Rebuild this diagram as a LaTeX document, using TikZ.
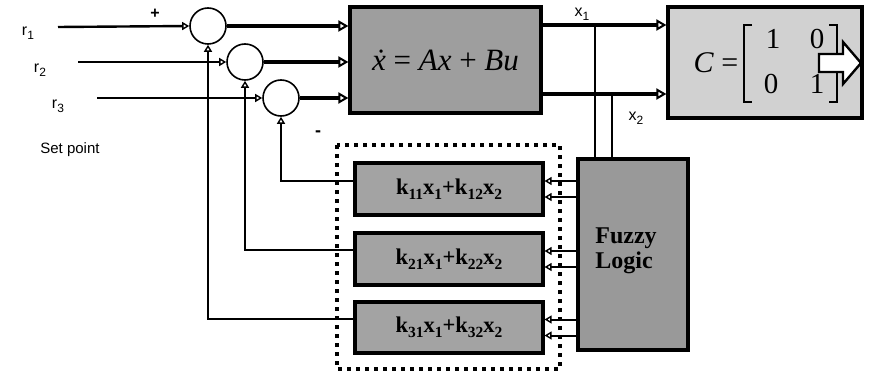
\documentclass[tikz,border=0pt]{standalone}
\usepackage{fontspec}
\setmainfont{Liberation Serif}
\newfontfamily\lsans{Liberation Sans}
\usetikzlibrary{arrows.meta}
\newcommand{\mysub}[1]{\raisebox{-0.22em}{\fontsize{15.5}{15.5}\selectfont #1}}
\newcommand{\mysubs}[1]{\raisebox{-0.25em}{\fontsize{12}{12}\selectfont #1}}
\begin{document}
\begin{tikzpicture}[x=1pt,y=-1pt,
  tip/.style={-{Triangle[open,length=10pt,width=11pt,line width=2pt]}},
  tipb/.style={-{Triangle[open,length=7pt,width=8pt,line width=1.4pt]}},
  inl/.style={line width=2.4pt},
  thk/.style={line width=3.6pt},
  fb/.style={line width=2pt},
  blk/.style={draw,line width=3.2pt,inner sep=0pt},
  sumc/.style={circle,draw,line width=1.6pt,minimum size=36pt,inner sep=0pt},
  lab/.style={font=\lsans\fontsize{16}{16}\selectfont,inner sep=0pt},
  ktext/.style={font=\bfseries\fontsize{22.5}{26}\selectfont},
  digit/.style={font=\fontsize{29}{29}\selectfont,inner sep=0pt},
  brk/.style={line width=2.6pt,line cap=butt,line join=miter}
]
\useasboundingbox (0,0) rectangle (874,374);

% dotted enclosure
\draw[line width=4pt,dash pattern=on 4pt off 5pt] (337,145) rectangle (560,369);

% blocks
\node[blk,fill=black!38,minimum width=191pt,minimum height=106pt] (sys) at (445.5,60)
  {\fontsize{31}{36}\selectfont\textit{\.x} = \textit{Ax} + \textit{Bu}};
\node[blk,fill=black!18,minimum width=194pt,minimum height=111pt] (cbox) at (765,62.5) {};
\node[inner sep=0pt,font=\fontsize{30}{30}\selectfont] (cc) at (716,63) {\textit{C} =};
\node[digit] (m11) at (773,39) {1};
\node[digit] (m12) at (817,39) {0};
\node[digit] (m21) at (771,84) {0};
\node[digit] (m22) at (817,84) {1};
\draw[brk] (752,25) -- (744,25) -- (744,102) -- (752,102);
\draw[brk] (829,25) -- (837,25) -- (837,102) -- (829,102);
\node[blk,fill=black!40,minimum width=110pt,minimum height=191pt] (fz) at (633,254.5) {};
\node[font=\bfseries\fontsize{24}{25}\selectfont,align=left,inner sep=0pt] (fzt) at (626,251) {Fuzzy\\Logic};
\node[blk,fill=black!36,minimum width=188pt,minimum height=52pt,ktext] (k1) at (449,189)
  {k\mysub{11}x\mysub{1}+k\mysub{12}x\mysub{2}};
\node[blk,fill=black!36,minimum width=188pt,minimum height=52pt,ktext] (k2) at (449,259)
  {k\mysub{21}x\mysub{1}+k\mysub{22}x\mysub{2}};
\node[blk,fill=black!36,minimum width=188pt,minimum height=51pt,ktext] (k3) at (449,327.5)
  {k\mysub{31}x\mysub{1}+k\mysub{32}x\mysub{2}};

% hollow output arrow
\draw[fill=white,line width=2.4pt,line join=miter] (819,54) -- (843,54) -- (843,42) -- (861,63) -- (843,84) -- (843,72) -- (819,72) -- cycle;

% summing junctions
\node[sumc] (s1) at (208,26) {};
\node[sumc] (s2) at (245,62) {};
\node[sumc] (s3) at (281,98) {};

% inputs
\coordinate (i1) at (58,27);
\coordinate (i2) at (78,62);
\coordinate (i3) at (97,98);
\draw[inl,tipb] (i1) -- (s1.west);
\draw[inl,tipb] (i2) -- (s2.west);
\draw[inl,tipb] (i3) -- (s3.west);

% junction outputs to system
\draw[thk,tip] (s1.east) -- (s1.east -| sys.west);
\draw[thk,tip] (s2.east) -- (s2.east -| sys.west);
\draw[thk,tip] (s3.east) -- (s3.east -| sys.west);

% states to output block
\coordinate (o1) at ([yshift=35pt]sys.east);
\coordinate (o2) at ([yshift=-34pt]sys.east);
\draw[thk,tip] (o1) -- (o1 -| cbox.west);
\draw[thk,tip] (o2) -- (o2 -| cbox.west);

% states to fuzzy logic
\coordinate (t1) at (595,25);
\coordinate (t2) at (612,94);
\draw[fb] (t1) -- (t1 |- fz.north);
\draw[fb] (t2) -- (t2 |- fz.north);

% fuzzy to gain blocks
\foreach \k in {k1,k2,k3}{
  \draw[fb,tipb] ([yshift=8pt]\k.east -| fz.west) -- ([yshift=8pt]\k.east);
  \draw[fb,tipb] ([yshift=-8pt]\k.east -| fz.west) -- ([yshift=-8pt]\k.east);
}

% feedback
\draw[fb,tipb] ([yshift=8pt]k1.west) -| (s3.south);
\draw[fb,tipb] ([yshift=9pt]k2.west) -| (s2.south);
\draw[fb,tipb] ([yshift=9pt]k3.west) -| (s1.south);

% labels
\node[lab] (r1) at (28,33) {r\mysubs{1}};
\node[lab] (r2) at (40,70) {r\mysubs{2}};
\node[lab] (r3) at (58,106) {r\mysubs{3}};
\node[lab,font=\lsans\fontsize{15}{15}\selectfont] (sp) at (70,150) {Set point};
\node[lab] (x1) at (582,14) {x\mysubs{1}};
\node[lab] (x2) at (636,118) {x\mysubs{2}};
\node[lab,font=\lsans\bfseries\fontsize{16}{16}\selectfont] (plus) at (155,14) {+};
\node[lab,font=\lsans\bfseries\fontsize{18}{18}\selectfont] (minus) at (318,134) {-};
\end{tikzpicture}
\end{document}
